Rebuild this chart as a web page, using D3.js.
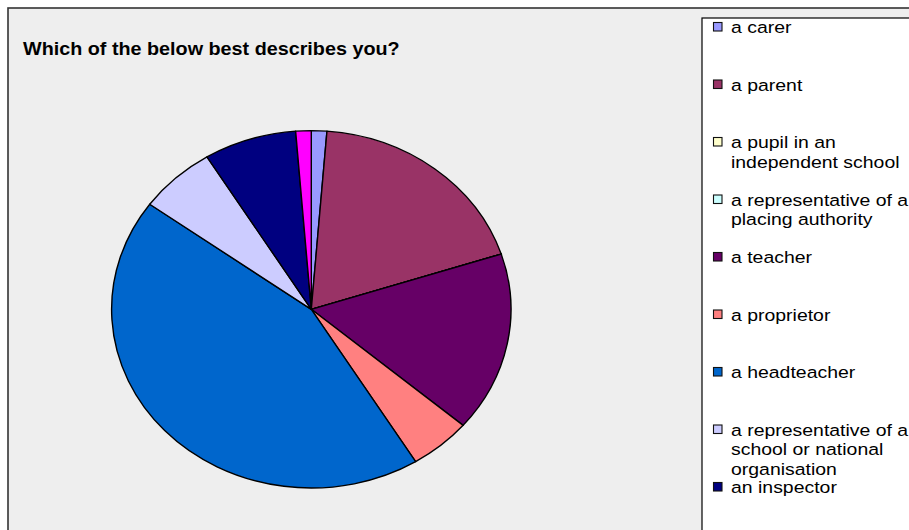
<!DOCTYPE html>
<html>
<head>
<meta charset="utf-8">
<script src="https://cdn.jsdelivr.net/npm/d3@7"></script>
<style>
  html, body { margin: 0; padding: 0; background: #ffffff; }
  svg { display: block; }
  text { font-family: "Liberation Sans", Arial, sans-serif; fill: #000; }
</style>
</head>
<body>
<svg id="chart" width="909" height="530"></svg>
<script>
// Survey responses: "Which of the below best describes you?"
const categories = [
  "a carer",
  "a parent",
  "a pupil in an\nindependent school",
  "a representative of a\nplacing authority",
  "a teacher",
  "a proprietor",
  "a headteacher",
  "a representative of a\nschool or national\norganisation",
  "an inspector",
  "other"
];
const responses = [1, 15, 0, 0, 13, 4, 35, 5, 6, 1];
const sliceColours = [
  "#9999FF", "#993366", "#FFFFCC", "#CCFFFF", "#660066",
  "#FF8080", "#0066CC", "#CCCCFF", "#000080", "#FF00FF"
];
const chartTitle = "Which of the below best describes you?";

const W = 909, H = 530;
const stretch = 1.1175;          // horizontal stretch of the whole drawing
const svg = d3.select("#chart");

// chart area
svg.append("rect")
  .attr("x", 8).attr("y", 8)
  .attr("width", W + 20).attr("height", H + 20)
  .attr("fill", "#eeeeee")
  .attr("stroke", "#333333")
  .attr("stroke-width", 1.6);

// title
svg.append("g")
  .attr("transform", `translate(23,55) scale(${stretch},1)`)
  .append("text")
  .attr("font-size", 17.7)
  .attr("font-weight", "bold")
  .text(chartTitle);

// pie
const ry = 178.7;
const pie = d3.pie().sort(null).value(d => d)(responses);
const arc = d3.arc().innerRadius(0).outerRadius(ry);

const pieG = svg.append("g")
  .attr("transform", `translate(311.3,309.3) scale(${stretch},1)`);

pieG.selectAll("path")
  .data(pie)
  .join("path")
  .attr("d", arc)
  .attr("fill", (d, i) => sliceColours[i])
  .attr("stroke", "#000")
  .attr("stroke-width", 1.4)
  .attr("stroke-linejoin", "round")
  .attr("vector-effect", "non-scaling-stroke");

// legend: entries that do not fit inside the box are left out
svg.append("rect")
  .attr("x", 702).attr("y", 18)
  .attr("width", 260).attr("height", 560)
  .attr("fill", "#ffffff")
  .attr("stroke", "#000")
  .attr("stroke-width", 1.2);

const itemStep = 57.5;
const legendData = categories
  .map((label, i) => ({ label, i }))
  .filter(d => 33 + d.i * itemStep < H - 10);

const items = svg.selectAll("g.legend-item")
  .data(legendData)
  .join("g")
  .attr("class", "legend-item")
  .attr("transform", d => `translate(0,${d.i * itemStep})`);

items.append("rect")
  .attr("x", 713.5).attr("y", 22.5)
  .attr("width", 8.5).attr("height", 8.5)
  .attr("fill", d => sliceColours[d.i])
  .attr("stroke", "#111")
  .attr("stroke-width", 1.1);

items.append("g")
  .attr("transform", `translate(731,33) scale(${stretch},1)`)
  .append("text")
  .attr("font-size", 17.4)
  .selectAll("tspan")
  .data(d => d.label.split("\n"))
  .join("tspan")
  .attr("x", 0)
  .attr("y", (d, j) => j * 20)
  .text(d => d);
</script>
</body>
</html>
